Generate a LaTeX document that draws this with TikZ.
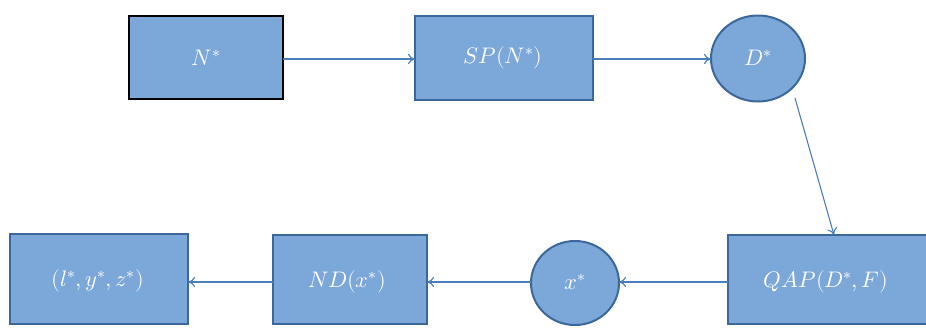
\documentclass[tikz,border=0pt]{standalone}
\usepackage{unicode-math}
\setmathfont{Latin Modern Math}
\usetikzlibrary{arrows.meta}
\definecolor{boxfill}{HTML}{7BA7D9}
\definecolor{boxline}{HTML}{3C679A}
\definecolor{arrline}{HTML}{4A7EBB}
\begin{document}
\begin{tikzpicture}[x=1pt,y=-1pt,
  rectbox/.style={draw=boxline,line width=2pt,fill=boxfill},
  ellbox/.style={draw=boxline,line width=2pt,fill=boxfill},
  lbl/.style={text=white,inner sep=0pt,font=\fontsize{22.5}{26}\selectfont},
  conn/.style={draw=arrline,line width=1.1pt,-{To[length=7pt,width=10pt]}}]
\useasboundingbox (0,0) rectangle (926,327);
\path[rectbox,draw=black,line width=2.5pt] (129,16) rectangle (283,99);
\node[lbl] (n) at (206,57.5) {$N^*$};
\coordinate (nE) at (283,59);
\path[rectbox] (415,16) rectangle (593,100);
\node[lbl] (sp) at (503,58) {$SP(N^*)$};
\coordinate (spW) at (415,59);
\coordinate (spE) at (593,59);
\path[ellbox] (758,58.5) ellipse (47 and 43);
\node[lbl] (d) at (758,58) {$D^*$};
\coordinate (dW) at (711,59);
\coordinate (dS) at (795,98);
\path[rectbox] (728,235) rectangle (930,324);
\node[lbl] (qap) at (826,282) {$QAP(D^*,F)$};
\coordinate (qN) at (834,235);
\coordinate (qW) at (728,282);
\path[ellbox] (575,283) ellipse (44 and 42);
\node[lbl] (x) at (575,282) {$x^*$};
\coordinate (xE) at (619,282);
\coordinate (xW) at (531,282);
\path[rectbox] (273,235) rectangle (427,324);
\node[lbl] (nd) at (347,282) {$ND(x^*)$};
\coordinate (ndE) at (427,282);
\coordinate (ndW) at (273,282);
\path[rectbox] (10,234) rectangle (188,324);
\node[lbl] (l) at (98,281) {$(l^*,y^*,z^*)$};
\coordinate (lE) at (188,282);
\draw[conn] (nE) -- (spW);
\draw[conn] (spE) -- (dW);
\draw[conn] (dS) -- (qN);
\draw[conn] (qW) -- (xE);
\draw[conn] (xW) -- (ndE);
\draw[conn] (ndW) -- (lE);
\end{tikzpicture}
\end{document}
